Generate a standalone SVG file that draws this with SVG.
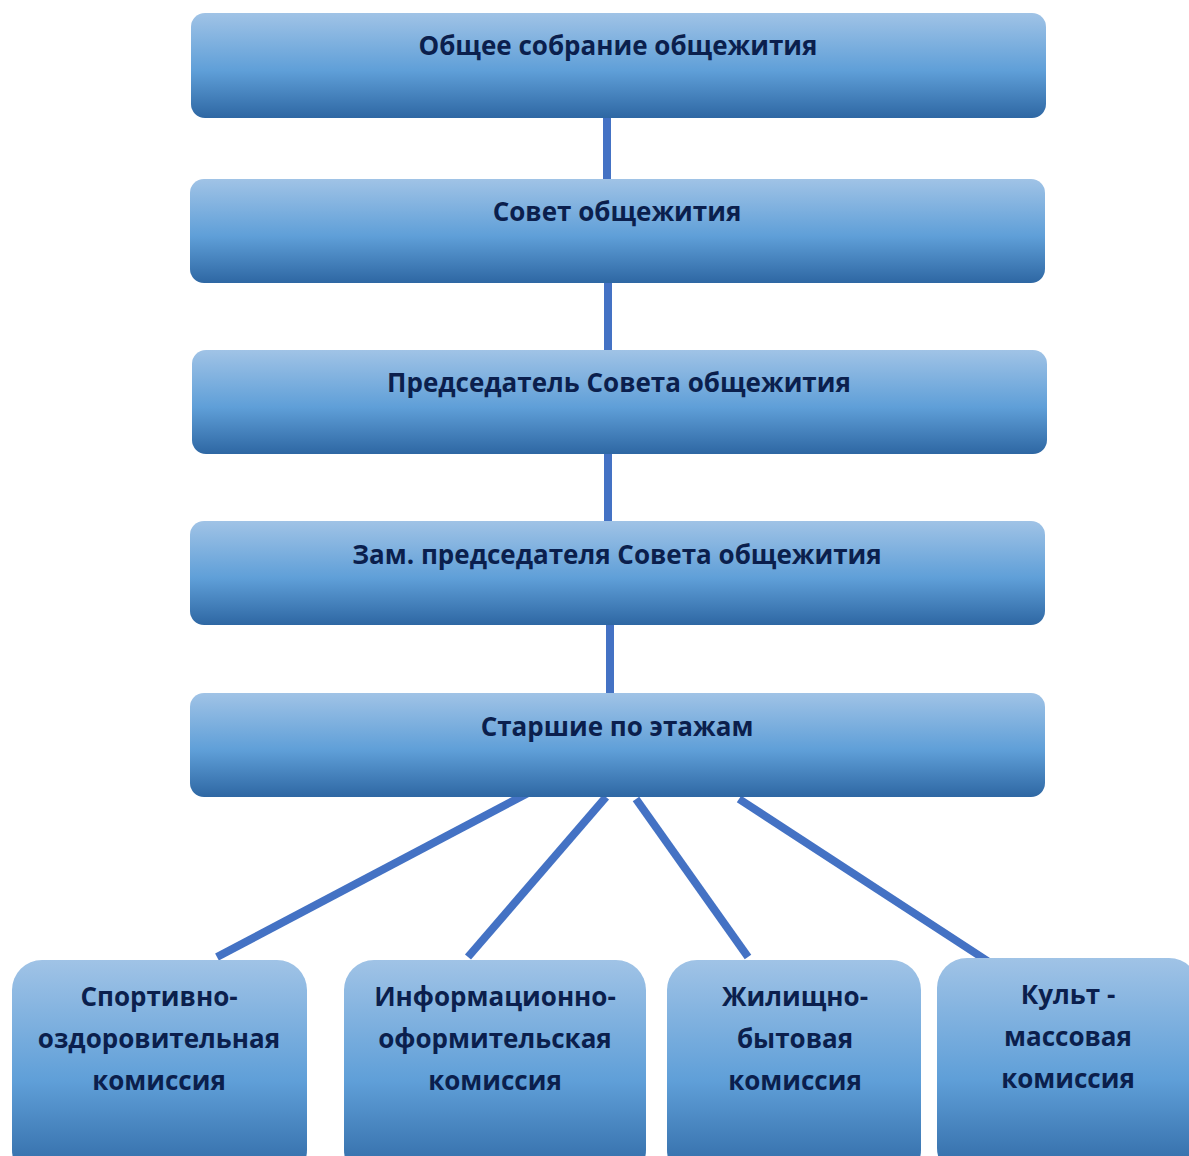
<svg xmlns="http://www.w3.org/2000/svg" width="1189" height="1156" viewBox="0 0 1189 1156">
<defs>
<linearGradient id="g" x1="0" y1="0" x2="0" y2="1">
<stop offset="0" stop-color="#a0c3e6"/>
<stop offset="0.55" stop-color="#5f9fd8"/>
<stop offset="1" stop-color="#2e67a3"/>
</linearGradient>
</defs>
<style>
.box{fill:url(#g);}
.t{font-family:"Open Sans","Noto Sans","DejaVu Sans",sans-serif;font-weight:bold;fill:#0b1f4d;text-anchor:middle;}
.top{font-size:26px;}
.bot{font-size:26px;}
.c{stroke:#4472c4;stroke-width:8;fill:none;}
</style>
<rect width="1189" height="1156" fill="#fff"/>
<g id="connectors">
<line class="c" x1="607" y1="116" x2="607" y2="181"/>
<line class="c" x1="608" y1="281" x2="608" y2="352"/>
<line class="c" x1="608" y1="452" x2="608" y2="523"/>
<line class="c" x1="610" y1="623" x2="610" y2="695"/>
<line class="c" x1="530" y1="792" x2="217" y2="957"/>
<line class="c" x1="606" y1="797" x2="468" y2="957"/>
<line class="c" x1="636" y1="799" x2="748" y2="957"/>
<line class="c" x1="739" y1="799" x2="989" y2="962"/>
</g>
<g id="n1"><rect class="box" x="191" y="13" width="855" height="105" rx="14"/><text class="t top" x="618" y="55">Общее собрание общежития</text></g>
<g id="n2"><rect class="box" x="190" y="179" width="855" height="104" rx="14"/><text class="t top" x="617" y="221">Совет общежития</text></g>
<g id="n3"><rect class="box" x="192" y="350" width="855" height="104" rx="14"/><text class="t top" x="619" y="392">Председатель Совета общежития</text></g>
<g id="n4"><rect class="box" x="190" y="521" width="855" height="104" rx="14"/><text class="t top" x="617" y="564">Зам. председателя Совета общежития</text></g>
<g id="n5"><rect class="box" x="190" y="693" width="855" height="104" rx="14"/><text class="t top" x="617" y="736">Старшие по этажам</text></g>
<g id="n6"><rect class="box" x="12" y="960" width="295" height="220" rx="30"/><text class="t bot" x="159"><tspan x="159" y="1006">Спортивно-</tspan><tspan x="159" y="1048">оздоровительная</tspan><tspan x="159" y="1090">комиссия</tspan></text></g>
<g id="n7"><rect class="box" x="344" y="960" width="302" height="220" rx="30"/><text class="t bot" x="495"><tspan x="495" y="1006">Информационно-</tspan><tspan x="495" y="1048">оформительская</tspan><tspan x="495" y="1090">комиссия</tspan></text></g>
<g id="n8"><rect class="box" x="667" y="960" width="254" height="220" rx="30"/><text class="t bot" x="795"><tspan x="795" y="1006">Жилищно-</tspan><tspan x="795" y="1048">бытовая</tspan><tspan x="795" y="1090">комиссия</tspan></text></g>
<g id="n9"><rect class="box" x="937" y="958" width="262" height="220" rx="30"/><text class="t bot" x="1068"><tspan x="1068" y="1004">Культ -</tspan><tspan x="1068" y="1046">массовая</tspan><tspan x="1068" y="1088">комиссия</tspan></text></g>
</svg>
